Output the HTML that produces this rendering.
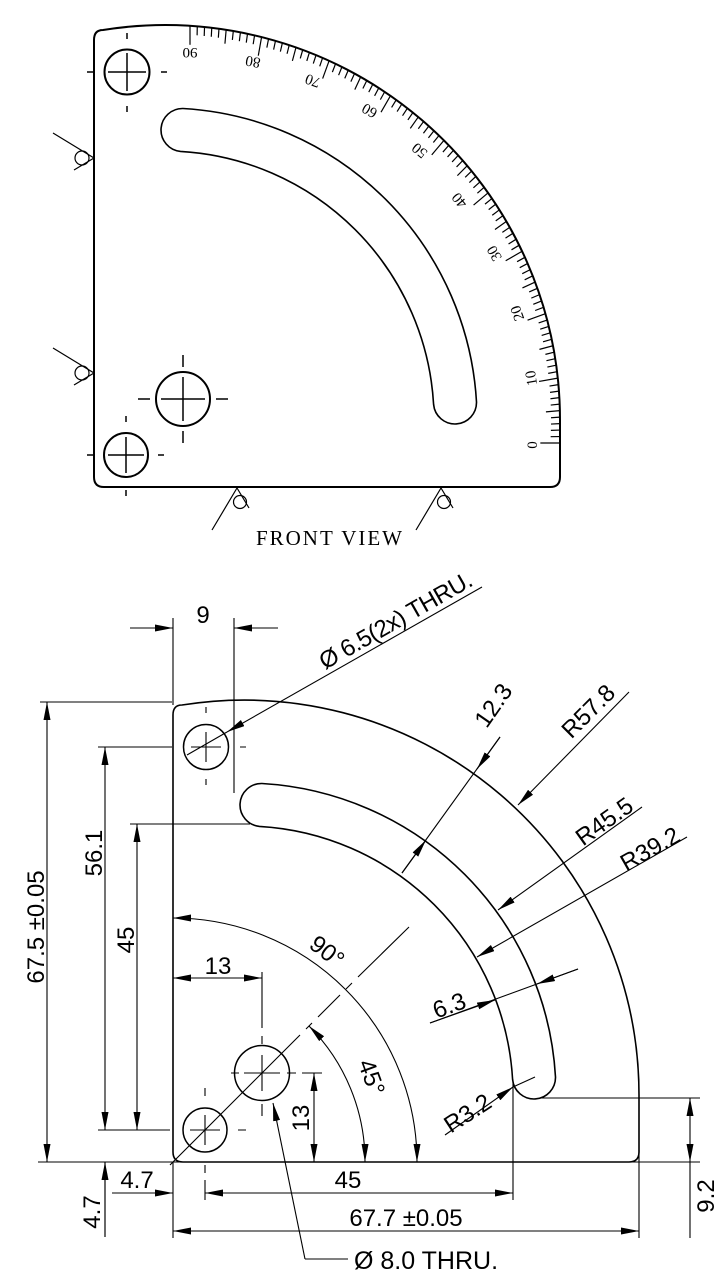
<!DOCTYPE html>
<html><head><meta charset="utf-8"><style>
html,body{margin:0;padding:0;background:#fff;}
svg{display:block;}
text{font-family:"Liberation Sans",sans-serif;fill:#000;}
.dim text{font-size:24px;}
.sc text{font-family:"Liberation Serif",serif;font-size:15px;}
</style></head><body>
<svg id="s" width="727" height="1280" viewBox="0 0 727 1280" xmlns="http://www.w3.org/2000/svg">
<defs>
<marker id="ar" viewBox="0 0 18 7" refX="18" refY="3.5" markerWidth="18" markerHeight="7" markerUnits="userSpaceOnUse" orient="auto-start-reverse"><path d="M0,0L18,3.5L0,7z" fill="#000"/></marker>
<path id="outline" d="M94 40 Q94 30 103 30 A395 395 0 0 1 560 420 L560 477 Q560 487 550 487 L104 487 Q94 487 94 477 Z"/>
<path id="slot" d="M476.5 402 A312 312 0 0 0 183 108.5 A21.5 21.5 0 0 0 180.5 151.4 A269 269 0 0 1 433.6 404.5 A21.5 21.5 0 0 0 476.5 402 Z"/>
</defs>

<!-- ============ TOP VIEW ============ -->
<g fill="none" stroke="#000" stroke-width="2">
<use href="#outline"/>
<use href="#slot" stroke-width="1.6"/>
<circle cx="127" cy="72" r="22.5"/>
<circle cx="183" cy="399" r="27"/>
<circle cx="126" cy="455" r="22"/>
</g>
<g stroke="#000" stroke-width="1.5">
<path d="M108 72H146M127 53V91M87 72H93M161 72H167M127 33V39M127 106V112"/>
<path d="M161 399H205M183 377V421M138 399H150M216 399H228M183 355V367M183 431V443"/>
<path d="M108 455H144M126 437V473M87 455H93M158 455H164M126 416V422M126 490V496"/>
</g>
<g id="ticks" stroke="#000" stroke-width="1.2"></g>
<g class="sc">
<text transform="translate(533,445) rotate(-90)" text-anchor="middle" dominant-baseline="central">0</text>
<text transform="translate(532,378) rotate(-100)" text-anchor="middle" dominant-baseline="central">10</text>
<text transform="translate(518,313) rotate(-110)" text-anchor="middle" dominant-baseline="central">20</text>
<text transform="translate(495,253) rotate(-120)" text-anchor="middle" dominant-baseline="central">30</text>
<text transform="translate(460,200) rotate(-130)" text-anchor="middle" dominant-baseline="central">40</text>
<text transform="translate(420,150) rotate(-140)" text-anchor="middle" dominant-baseline="central">50</text>
<text transform="translate(370,110) rotate(-150)" text-anchor="middle" dominant-baseline="central">60</text>
<text transform="translate(313,80) rotate(-160)" text-anchor="middle" dominant-baseline="central">70</text>
<text transform="translate(253,61) rotate(-170)" text-anchor="middle" dominant-baseline="central">80</text>
<text transform="translate(190,52) rotate(-180)" text-anchor="middle" dominant-baseline="central">90</text>
</g>
<g fill="none" stroke="#000" stroke-width="1.2">
<path d="M53 133L94 158L74 170"/><circle cx="82" cy="158" r="7"/>
<path d="M53 348L94 373L74 385"/><circle cx="82" cy="373" r="7"/>
<path d="M212 530L237 488L249 508"/><circle cx="240" cy="502" r="6.5"/>
<path d="M416 530L441 488L453 508"/><circle cx="444" cy="502" r="6.5"/>
</g>
<text x="256" y="545" style="font-family:'Liberation Serif',serif;font-size:21px" textLength="146">FRONT VIEW</text>

<!-- ============ BOTTOM VIEW ============ -->
<g transform="translate(79,675)" fill="none" stroke="#000" stroke-width="1.6">
<use href="#outline"/>
<use href="#slot"/>
</g>
<g fill="none" stroke="#000" stroke-width="1.5">
<circle cx="206" cy="747" r="22.5"/>
<circle cx="262" cy="1073" r="27.5"/>
<circle cx="205" cy="1130" r="22"/>
</g>
<g fill="none" stroke="#000" stroke-width="1.1">
<path d="M191 747H221M206 732V762M206 707V713M206 779V785M240 747H246M167 747H172"/>
<path d="M244 1073H280M262 1055V1091M231 1073H239M287 1073H296M302 1073H322M262 972V1028M262 1036V1044M262 1104V1116"/>
<path d="M190 1130H220M205 1115V1145M205 1088V1096M205 1165V1173M205 1180V1200M238 1130H246M98 1130H170"/>
<path d="M170 1165L300 1035M306 1029L312 1023M318 1017L340 995M346 989L352 983M358 977L409 927"/>
<path d="M173 618V705M234 618V793"/>
<path d="M40 702H172M98 747H170M130 824H250M38 1162H700"/>
<path d="M513 1082V1200M173 1162V1238M639 1150V1238M540 1098H700M690 1162V1238M105 1162V1237"/>
<path d="M130 628H173" marker-end="url(#ar)"/>
<path d="M278 628H234" marker-end="url(#ar)"/>
<path d="M482 587L227 732" marker-end="url(#ar)"/>
<path d="M227 732L187 755"/>
<path d="M47 702V1162" marker-start="url(#ar)" marker-end="url(#ar)"/>
<path d="M105 747V1130" marker-start="url(#ar)" marker-end="url(#ar)"/>
<path d="M137 824V1130" marker-start="url(#ar)" marker-end="url(#ar)"/>
<path d="M173 978H262" marker-start="url(#ar)" marker-end="url(#ar)"/>
<path d="M314 1073V1162" marker-start="url(#ar)" marker-end="url(#ar)"/>
<path d="M205 1193H513" marker-start="url(#ar)" marker-end="url(#ar)"/>
<path d="M112 1193H173" marker-end="url(#ar)"/>
<path d="M105 1237V1162" marker-end="url(#ar)"/>
<path d="M173 1231H639" marker-start="url(#ar)" marker-end="url(#ar)"/>
<path d="M690 1098V1162" marker-start="url(#ar)" marker-end="url(#ar)"/>
<path d="M402 873L500 737"/>
<path d="M402 873L426 840" marker-end="url(#ar)"/>
<path d="M500 737L477 769" marker-end="url(#ar)"/>
<path d="M629 692L518 805" marker-end="url(#ar)"/>
<path d="M642 807L498 910" marker-end="url(#ar)"/>
<path d="M687 837L477 957" marker-end="url(#ar)"/>
<path d="M430 1023L578 969"/>
<path d="M430 1023L495 1000" marker-end="url(#ar)"/>
<path d="M578 969L537 984" marker-end="url(#ar)"/>
<path d="M445 1135L513 1087" marker-end="url(#ar)"/>
<path d="M513 1087L535 1077"/>
<path d="M173 918A244 244 0 0 1 417 1162" marker-start="url(#ar)" marker-end="url(#ar)"/>
<path d="M309 1026A192 192 0 0 1 365 1162" marker-start="url(#ar)" marker-end="url(#ar)"/>
<path d="M305 1259L273 1103" marker-end="url(#ar)"/>
<path d="M305 1259H348"/>
</g>
<g class="dim">
<text x="203" y="623" text-anchor="middle">9</text>
<text transform="translate(325,670) rotate(-29.7)" textLength="172">Ø 6.5(2x) THRU.</text>
<text transform="translate(44,927) rotate(-90)" text-anchor="middle">67.5 ±0.05</text>
<text transform="translate(102,853) rotate(-90)" text-anchor="middle">56.1</text>
<text transform="translate(134,940) rotate(-90)" text-anchor="middle">45</text>
<text x="218" y="974" text-anchor="middle">13</text>
<text transform="translate(309,1118) rotate(-90)" text-anchor="middle">13</text>
<text x="348" y="1188" text-anchor="middle">45</text>
<text x="137" y="1188" text-anchor="middle">4.7</text>
<text transform="translate(100,1212) rotate(-90)" text-anchor="middle">4.7</text>
<text x="406" y="1226" text-anchor="middle">67.7 ±0.05</text>
<text transform="translate(714,1196) rotate(-90)" text-anchor="middle">9.2</text>
<text transform="translate(500,710) rotate(-55)" text-anchor="middle">12.3</text>
<text transform="translate(594,717) rotate(-45)" text-anchor="middle">R57.8</text>
<text transform="translate(609,828) rotate(-35.6)" text-anchor="middle">R45.5</text>
<text transform="translate(654,856) rotate(-29.7)" text-anchor="middle">R39.2</text>
<text transform="translate(452,1013) rotate(-20)" text-anchor="middle">6.3</text>
<text transform="translate(472,1120) rotate(-33)" text-anchor="middle">R3.2</text>
<text transform="translate(322,958) rotate(38)" text-anchor="middle">90°</text>
<text transform="translate(364,1080) rotate(70)" text-anchor="middle">45°</text>
<text x="354" y="1269" style="font-size:25px">Ø 8.0 THRU.</text>
</g>
</svg>
<script>
(function(){
var g=document.getElementById('ticks'),ns='http://www.w3.org/2000/svg';
var Sx=190,Sy=443,Cx=165,Cy=420,R=395;
var dx=Sx-Cx,dy=Sy-Cy,dd=dx*dx+dy*dy;
for(var a=0;a<=90;a++){
 var th=a*Math.PI/180,ux=Math.cos(th),uy=-Math.sin(th);
 var b=dx*ux+dy*uy;var t=-b+Math.sqrt(b*b-(dd-R*R));
 var L=(a%10==0)?19:(a%5==0?14:9);
 var l=document.createElementNS(ns,'line');
 l.setAttribute('x1',Sx+ux*t);l.setAttribute('y1',Sy+uy*t);
 l.setAttribute('x2',Sx+ux*(t-L));l.setAttribute('y2',Sy+uy*(t-L));
 g.appendChild(l);
}
})();
</script>
</body></html>
